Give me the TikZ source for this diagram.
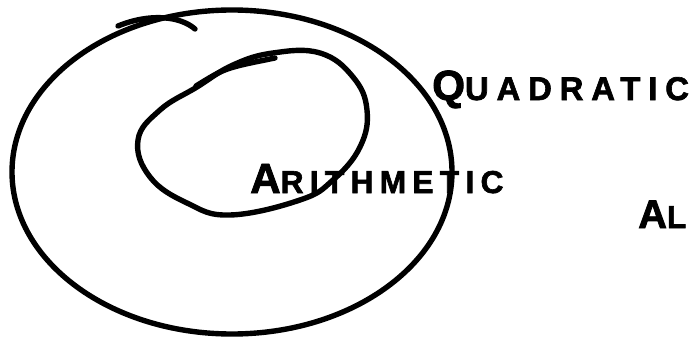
\documentclass[tikz,border=0pt]{standalone}
\usepackage{fontspec}
\setmainfont{Liberation Sans}[BoldFeatures={FakeBold=2}]

\begin{document}
\begin{tikzpicture}[
    x=0.03cm, y=-0.03cm,
    pen/.style={line width=4.6pt, line cap=round, line join=round},
    caps/.style={font=\bfseries, inner sep=0pt, anchor=base west},
]
\clip (0,0) rectangle (699,338);

% --- Sets ---
% Outer set
\draw[pen] (232,172) ellipse [x radius=220, y radius=162];
\draw[pen] (118,26) .. controls (150,13) and (180,16) .. (195,29);

% Inner set
\draw[pen] plot[smooth cycle, tension=0.7] coordinates {(138,140) (160,110) (197,87) (233,65) (273,53) (320,53) (353,77) (367,110) (360,147) (333,180) (300,200) (230,215) (187,203) (150,177)};
\draw[pen] (196,86) .. controls (225,68) .. (275,58);

% --- Labels ---
\node (quad) [caps] at (432,100) {{\fontsize{36}{36}\selectfont Q}{\fontsize{28}{28}\selectfont\addfontfeatures{LetterSpace=24}UADRATIC}};
\node (arith) [caps] at (250,193) {{\fontsize{36}{36}\selectfont A}{\fontsize{27}{27}\selectfont\addfontfeatures{LetterSpace=20}RITHMETIC}};
\node (al) [caps] at (638,228) {{\fontsize{34}{34}\selectfont A}{\fontsize{27}{27}\selectfont L}};

\end{tikzpicture}
\end{document}
